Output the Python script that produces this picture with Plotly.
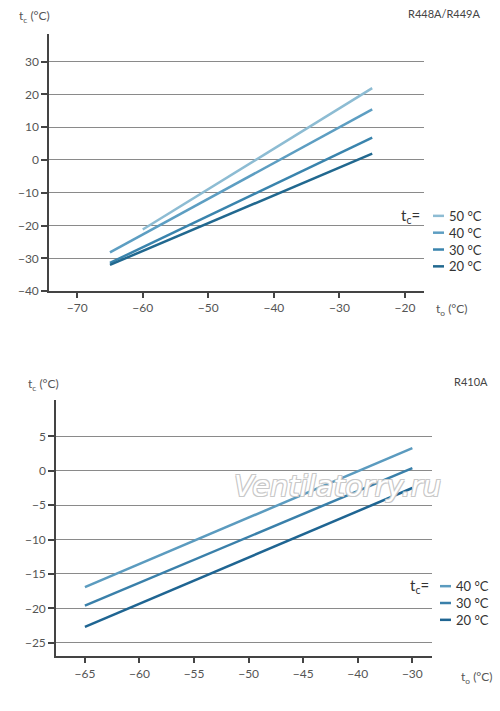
import plotly.graph_objects as go

W, H = 500, 711
FONT = "Lato"

# R448A/R449A
top_labels = ["50 °C", "40 °C", "30 °C", "20 °C"]
top_colors = ["#8dbcd3", "#5d9ec2", "#3a84ad", "#21688f"]
top_to = [[-60, -25], [-65, -25], [-65, -25], [-65, -25]]
top_tc = [[-21.2, 21.9], [-28.2, 15.4], [-31.4, 6.8], [-32.0, 1.9]]
top_xticks = [-70, -60, -50, -40, -30, -20]
top_yticks = [-40, -30, -20, -10, 0, 10, 20, 30]

# R410A
bot_labels = ["40 °C", "30 °C", "20 °C"]
bot_colors = ["#5b9bbf", "#3a80aa", "#1f6592"]
bot_to = [[-65, -35], [-65, -35], [-65, -35]]  # last tick is printed "-30" in the source
bot_tc = [[-16.9, 3.3], [-19.6, 0.4], [-22.7, -2.5]]
bot_xticks = [-65, -60, -55, -50, -45, -40, -35]
bot_xtext = ["−65", "−60", "−55", "−50", "−45", "−40", "−30"]
bot_yticks = [-25, -20, -15, -10, -5, 0, 5]


def px(x, y):
    return x / W, 1 - y / H


fig = go.Figure()

for lab, col, xs, ys in zip(top_labels, top_colors, top_to, top_tc):
    fig.add_trace(go.Scatter(x=xs, y=ys, mode="lines", name=lab,
                             line=dict(color=col, width=2.5),
                             xaxis="x", yaxis="y"))
for lab, col, xs, ys in zip(bot_labels, bot_colors, bot_to, bot_tc):
    fig.add_trace(go.Scatter(x=xs, y=ys, mode="lines", name=lab,
                             line=dict(color=col, width=2.5),
                             xaxis="x2", yaxis="y2"))

axis_font = dict(family=FONT, size=12, color="#555")
xstyle = dict(showline=True, linecolor="#444", linewidth=1.5, ticks="outside",
              ticklen=5, tickcolor="#444", tickwidth=1.5, showgrid=False,
              zeroline=False, tickfont=axis_font, fixedrange=True)
ystyle = dict(showline=True, linecolor="#444", linewidth=1.5, ticks="outside",
              ticklen=6, tickcolor="#444", tickwidth=1.5, showgrid=True,
              gridcolor="#8a8a8a", gridwidth=1.3, zeroline=False,
              tickfont=axis_font, fixedrange=True)

fig.update_layout(
    width=W, height=H,
    margin=dict(l=0, r=0, t=0, b=0),
    paper_bgcolor="white", plot_bgcolor="white",
    showlegend=False,
    font=dict(family=FONT, color="#444"),
    xaxis=dict(xstyle, domain=[49 / W, 424 / W], range=[-74.3, -17.1],
               tickvals=top_xticks, anchor="y"),
    yaxis=dict(ystyle, domain=[1 - 294 / H, 1 - 34 / H], range=[-40, 38.5],
               tickvals=top_yticks, anchor="x"),
    xaxis2=dict(xstyle, domain=[56 / W, 432 / W], range=[-67.65, -33.2],
                tickvals=bot_xticks, ticktext=bot_xtext, anchor="y2"),
    yaxis2=dict(ystyle, domain=[1 - 663 / H, 1 - 404 / H], range=[-27, 10.3],
                tickvals=bot_yticks, anchor="x2"),
)

ann = []
def text(x, y, s, size=12, xanchor="left", color="#555"):
    ax, ay = px(x, y)
    ann.append(dict(x=ax, y=ay, xref="paper", yref="paper", text=s,
                    showarrow=False, xanchor=xanchor, yanchor="middle",
                    font=dict(family=FONT, size=size, color=color)))

# titles and axis names
text(482, 14, "R448A/R449A", 11, "right", "#444")
text(490, 385, "R410A", 11, "right", "#444")
text(17, 17, "t<sub>c</sub> (°C)", 12)
text(26, 388, "t<sub>c</sub> (°C)", 12)
text(434, 313, "t<sub>o</sub> (°C)", 12)
text(459, 684, "t<sub>o</sub> (°C)", 12)

# hand-made legends
shapes = []
def legend(x0, y0, labels, colors, lx):
    text(lx, y0, "t<sub>c</sub>=", 15, "right", "#333")
    for i, (lab, col) in enumerate(zip(labels, colors)):
        y = y0 + i * 17
        sx0, sy = px(x0, y)
        sx1, _ = px(x0 + 11, y)
        shapes.append(dict(type="line", xref="paper", yref="paper",
                           x0=sx0, x1=sx1, y0=sy, y1=sy,
                           line=dict(color=col, width=2.5)))
        text(x0 + 14, y, lab, 13, "left", "#333")

legend(433, 218, top_labels, top_colors, 422)
legend(440, 592, bot_labels, bot_colors, 431)

# watermark
wx, wy = px(337, 491)
ann.append(dict(x=wx, y=wy, xref="paper", yref="paper", text="Ventilatorry.ru",
                showarrow=False, xanchor="center", yanchor="middle",
                font=dict(family="DejaVu Sans", size=29, color="white",
                          style="italic",
                          shadow="-1px -1px 0 #c8c8c8, 1px -1px 0 #c8c8c8, -1px 1px 0 #c8c8c8, 1px 1px 0 #c8c8c8")))

fig.update_layout(annotations=ann, shapes=shapes)

fig.write_html("out.html", config={"displayModeBar": False},
               post_script="document.body.style.margin='0';")
